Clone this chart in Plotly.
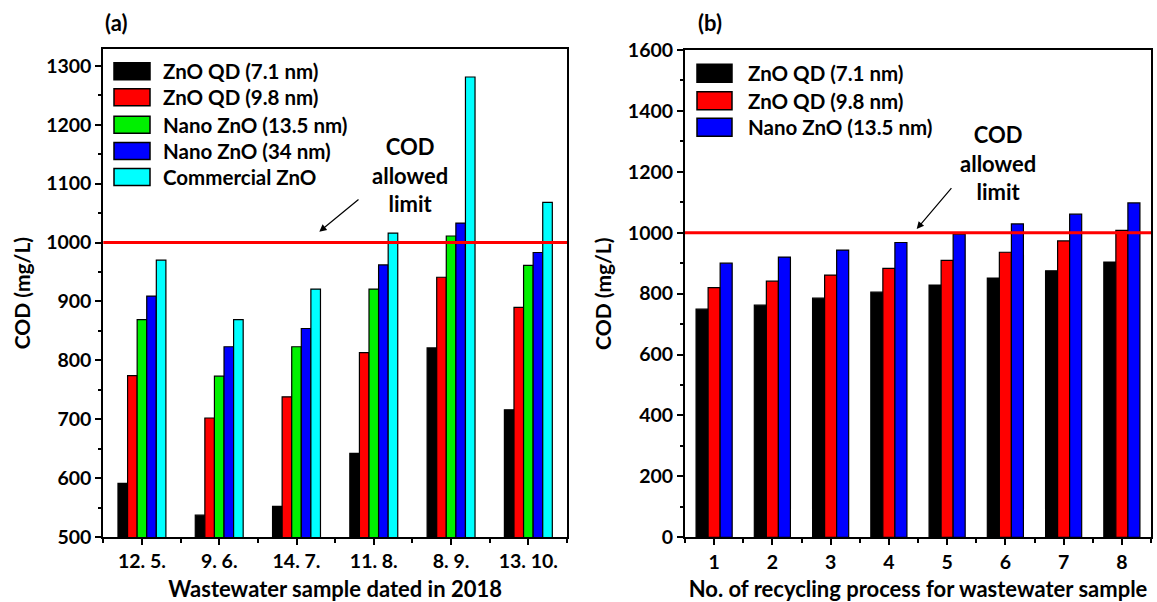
import plotly.graph_objects as go

# ---------------- data ----------------
dates_a = ["12. 5.", "9. 6.", "14. 7.", "11. 8.", "8. 9.", "13. 10."]
series_a = ["ZnO QD (7.1 nm)", "ZnO QD (9.8 nm)", "Nano ZnO (13.5 nm)", "Nano ZnO (34 nm)", "Commercial ZnO"]
zno_qd_71_a = [591, 537, 552, 642, 821, 716]
zno_qd_98_a = [774, 702, 738, 813, 941, 890]
nano_135_a = [869, 773, 823, 921, 1011, 961]
nano_34_a = [909, 823, 854, 962, 1033, 983]
commercial_a = [970, 869, 921, 1016, 1281, 1068]

cycles_b = [1, 2, 3, 4, 5, 6, 7, 8]
series_b = ["ZnO QD (7.1 nm)", "ZnO QD (9.8 nm)", "Nano ZnO (13.5 nm)"]
zno_qd_71_b = [749, 762, 785, 805, 828, 851, 875, 904]
zno_qd_98_b = [820, 841, 861, 883, 909, 936, 973, 1008]
nano_135_b = [900, 920, 943, 968, 995, 1029, 1061, 1098]

cod_limit = 1000

colors_a = ["#000000", "#FF0000", "#00F000", "#0000FF", "#00FFFF"]
colors_b = ["#000000", "#FF0000", "#0000FF"]

W, H = 1157, 602
FONT = "Lato"


def px(x):
    return x / W


def py(y):
    return 1 - y / H


fig = go.Figure()

vals_a = [zno_qd_71_a, zno_qd_98_a, nano_135_a, nano_34_a, commercial_a]
xa = list(range(len(dates_a)))
for name, vals, col in zip(series_a, vals_a, colors_a):
    fig.add_trace(go.Bar(x=xa, y=vals, name=name, marker=dict(color=col, line=dict(color="black", width=1.2)),
                         xaxis="x", yaxis="y", showlegend=False, offsetgroup=name + "a"))

vals_b = [zno_qd_71_b, zno_qd_98_b, nano_135_b]
for name, vals, col in zip(series_b, vals_b, colors_b):
    fig.add_trace(go.Bar(x=cycles_b, y=vals, name=name, marker=dict(color=col, line=dict(color="black", width=1.2)),
                         xaxis="x2", yaxis="y2", showlegend=False, offsetgroup=name + "b"))

tickfont = dict(family=FONT, size=19.5, color="black", weight="bold")
titlefont = dict(family=FONT, size=22, color="black", weight="bold")
ytitlefont = dict(family=FONT, size=21, color="black", weight="bold")

axis_common = dict(showline=True, linecolor="black", linewidth=2, mirror=True, ticks="outside",
                   ticklen=6, tickwidth=1.5, tickcolor="black", showgrid=False, zeroline=False,
                   tickfont=tickfont, automargin=False)

fig.update_layout(
    width=W, height=H,
    margin=dict(l=0, r=0, t=0, b=0),
    plot_bgcolor="white", paper_bgcolor="white",
    barmode="group",
    bargap=0.38, bargroupgap=0,
    xaxis=dict(domain=[px(103.3), px(567)], range=[-0.5, 5.5], tickvals=xa, ticktext=dates_a,
               anchor="y", title=dict(text="Wastewater sample dated in 2018", font=titlefont, standoff=12),
               minor=dict(tick0=0.5, dtick=1, ticks="outside", ticklen=4, tickcolor="black"),
               **axis_common),
    yaxis=dict(domain=[py(537), py(49.3)], range=[500, 1328], dtick=100, anchor="x",
               title=dict(text="COD (mg/L)", font=ytitlefont, standoff=10),
               minor=dict(dtick=50, ticks="outside", ticklen=3, tickcolor="black"),
               **axis_common),
    xaxis2=dict(domain=[px(685), px(1151)], range=[0.5, 8.5], tickvals=cycles_b,
                anchor="y2", title=dict(text="No. of recycling process for wastewater sample", font=titlefont, standoff=12),
                minor=dict(tick0=0.5, dtick=1, ticks="outside", ticklen=4, tickcolor="black"),
                **axis_common),
    yaxis2=dict(domain=[py(537.3), py(50)], range=[0, 1600], dtick=200, anchor="x2",
                title=dict(text="COD (mg/L)", font=ytitlefont, standoff=10),
                minor=dict(dtick=100, ticks="outside", ticklen=3, tickcolor="black"),
                **axis_common),
)

# red COD limit lines
for xr, yr in [("x domain", "y"), ("x2 domain", "y2")]:
    fig.add_shape(type="line", xref=xr, yref=yr, x0=0, x1=1, y0=cod_limit, y1=cod_limit,
                  line=dict(color="#FF0000", width=3), layer="above")

# custom legends
legfont = dict(family=FONT, size=20.5, color="black", weight="bold")


def add_legend(names, colors, x0, x1, xtext, centers, h):
    for name, col, cy in zip(names, colors, centers):
        fig.add_shape(type="rect", xref="paper", yref="paper", x0=px(x0), x1=px(x1),
                      y0=py(cy + h / 2), y1=py(cy - h / 2), fillcolor=col,
                      line=dict(color="black", width=1.5), layer="above")
        fig.add_annotation(xref="paper", yref="paper", x=px(xtext), y=py(cy), text=name,
                           showarrow=False, xanchor="left", yanchor="middle", font=legfont)


add_legend(series_a, colors_a, 114, 150, 161, [71.3, 97.3, 124.7, 151, 177], 17)
add_legend(series_b, colors_b, 697, 732, 746, [73.3, 100.7, 127.3], 18)

# COD allowed limit labels and arrows
annfont = dict(family=FONT, size=22, color="black", weight="bold")
fig.add_annotation(xref="paper", yref="paper", x=px(410), y=py(175), text="COD<br>allowed<br>limit",
                   showarrow=False, xanchor="center", yanchor="middle", font=annfont)
fig.add_annotation(xref="paper", yref="paper", x=px(998), y=py(163), text="COD<br>allowed<br>limit",
                   showarrow=False, xanchor="center", yanchor="middle", font=annfont)
fig.add_annotation(xref="paper", yref="paper", x=px(319.3), y=py(231.7), text="", showarrow=True,
                   ax=40.7, ay=-33.4, arrowhead=2, arrowsize=1.2, arrowwidth=1.2, arrowcolor="black")
fig.add_annotation(xref="paper", yref="paper", x=px(916.7), y=py(229), text="", showarrow=True,
                   ax=36, ay=-42.3, arrowhead=2, arrowsize=1.2, arrowwidth=1.2, arrowcolor="black")

# panel labels
for lab, xx in [("(a)", 116), ("(b)", 710)]:
    fig.add_annotation(xref="paper", yref="paper", x=px(xx), y=py(22), text=lab, showarrow=False,
                       xanchor="center", yanchor="middle", font=dict(family=FONT, size=22, color="black", weight="bold"))

fig.write_html("out.html", config={"displayModeBar": False},
               post_script="document.body.style.margin='0';document.body.style.overflow='hidden';")
